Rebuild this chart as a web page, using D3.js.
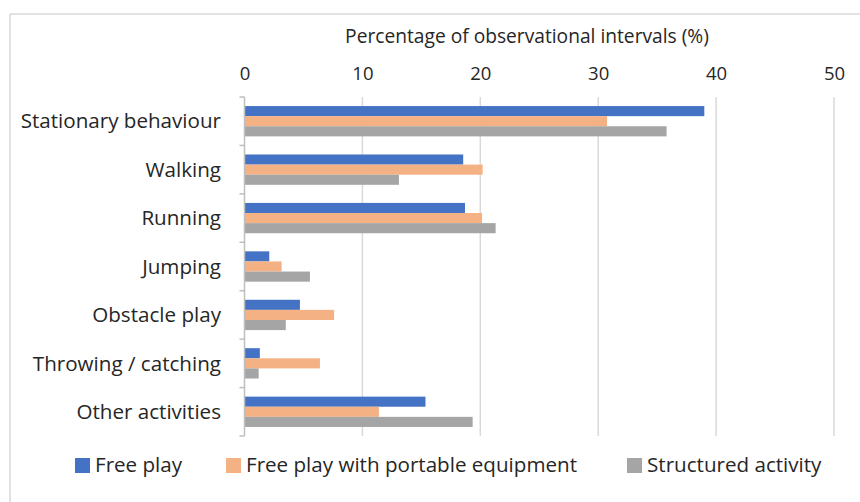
<!DOCTYPE html>
<html><head><meta charset="utf-8">
<script src="https://cdn.jsdelivr.net/npm/d3@7"></script>
<style>
html,body{margin:0;padding:0;background:#fff;}
svg text{font-family:"Open Sans",Lato,sans-serif;fill:#262626;}
</style></head>
<body><svg id="c" width="860" height="502"></svg>
<script>
const categories = ["Stationary behaviour","Walking","Running","Jumping","Obstacle play","Throwing / catching","Other activities"];
const seriesNames = ["Free play","Free play with portable equipment","Structured activity"];
const freePlay = [39.0, 18.55, 18.7, 2.1, 4.7, 1.3, 15.35];
const freePlayEquip = [30.75, 20.2, 20.15, 3.15, 7.6, 6.4, 11.4];
const structured = [35.8, 13.1, 21.3, 5.55, 3.5, 1.2, 19.35];
const xTicks = [0,10,20,30,40,50];
const colors = ["#4472C4","#F4B183","#A5A5A5"];
const axisTitle = "Percentage of observational intervals (%)";

const seriesValues = [freePlay, freePlayEquip, structured];
const svg = d3.select("#c");

svg.append("line").attr("x1",10).attr("x2",860).attr("y1",14).attr("y2",14).attr("stroke","#d9d9d9").attr("stroke-width",1.5);
svg.append("line").attr("x1",10).attr("x2",10).attr("y1",14).attr("y2",502).attr("stroke","#d9d9d9").attr("stroke-width",1.5);

const x = d3.scaleLinear().domain([0,50]).range([244.5,834]);
const p = 0.374;
const y = d3.scaleBand().domain(categories).range([97,436]).paddingInner(p).paddingOuter(p/2);
const ys = d3.scaleBand().domain(seriesNames).range([0,y.bandwidth()]);

svg.append("g").selectAll("line").data(xTicks.slice(1)).join("line")
  .attr("x1",d=>x(d)).attr("x2",d=>x(d)).attr("y1",97).attr("y2",436)
  .attr("stroke","#d9d9d9").attr("stroke-width",1.5);

const xAxis = d3.axisTop(x).tickValues(xTicks).tickSize(0).tickPadding(0);
const gx = svg.append("g").attr("transform","translate(0,80)").call(xAxis);
gx.select(".domain").remove();
gx.selectAll("text").style("font-size","18.5px").style("font-family","'Open Sans',sans-serif").attr("fill","#262626");

svg.append("text").attr("x",527).attr("y",43).attr("text-anchor","middle")
  .style("font-size","19.2px").text(axisTitle);

const groups = svg.append("g").selectAll("g").data(seriesNames).join("g").attr("fill",(d,i)=>colors[i]);
groups.selectAll("rect").data((s,si)=>categories.map((c,ci)=>({c, s, v: seriesValues[si][ci]}))).join("rect")
  .attr("x",x(0)).attr("y",d=>y(d.c)+ys(d.s)).attr("height",ys.bandwidth())
  .attr("width",d=>x(d.v)-x(0));

svg.append("line").attr("x1",x(0)).attr("x2",x(0)).attr("y1",97).attr("y2",436).attr("stroke","#bfbfbf").attr("stroke-width",1.5);
svg.append("g").selectAll("line").data(d3.range(categories.length+1)).join("line")
  .attr("x1",x(0)-5).attr("x2",x(0)).attr("y1",i=>97+i*y.step()).attr("y2",i=>97+i*y.step())
  .attr("stroke","#bfbfbf").attr("stroke-width",1.5);

svg.append("g").selectAll("text").data(categories).join("text")
  .attr("x",221).attr("y",d=>y(d)+y.bandwidth()/2).attr("dy","0.35em").attr("text-anchor","end")
  .style("font-size","20.6px").text(d=>d);

const legendX = [75,226,627];
const lg = svg.append("g").selectAll("g").data(seriesNames).join("g")
  .attr("transform",(d,i)=>`translate(${legendX[i]},465)`);
lg.append("rect").attr("x",0).attr("y",-7).attr("width",15).attr("height",15).attr("fill",(d,i)=>colors[i]);
lg.append("text").attr("x",20).attr("dy","0.35em").style("font-size","20.6px").text(d=>d);
</script></body></html>
